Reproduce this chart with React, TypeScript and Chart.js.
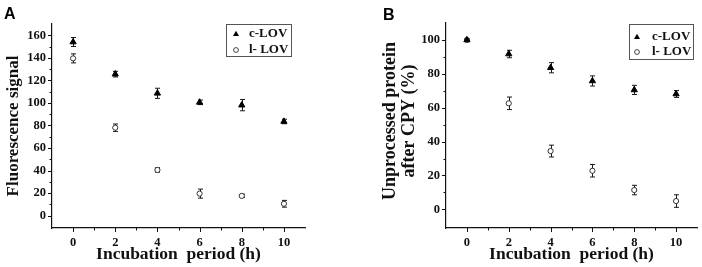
import React, { useEffect, useRef } from "react";
import { Chart, registerables } from "chart.js";

Chart.register(...registerables);

// ---------- data ----------
const hours = [0, 2, 4, 6, 8, 10];
const xTickValues = [0, 2, 4, 6, 8, 10];

// Panel A: fluorescence signal
const fluorC = [154, 125.5, 108.5, 100.5, 98, 83.5];
const fluorCErr = [4, 2.5, 4.5, 2, 5, 2];
const fluorL = [139.5, 78, 40.5, 19.5, 17.5, 10.5];
const fluorLErr = [4, 3.3, 2, 4, 1.5, 3];
const yTicksA = [0, 20, 40, 60, 80, 100, 120, 140, 160];

// Panel B: unprocessed protein after CPY (%)
const protC = [100, 91.7, 83.6, 75.8, 70.5, 68.1];
const protCErr = [0.6, 2.2, 3, 3, 2.7, 2];
const protL = [100, 62.6, 34.4, 22.8, 11.4, 4.9];
const protLErr = [0, 3.7, 3.5, 3.7, 2.8, 3.7];
const yTicksB = [0, 20, 40, 60, 80, 100];

const seriesNames = ["c-LOV", "l- LOV"];

const SERIF = "'Liberation Serif', 'Times New Roman', serif";

type PanelProps = {
  letter: string;
  letterX: number;
  letterY: number;
  cVals: number[];
  cErr: number[];
  lVals: number[];
  lErr: number[];
  yTicks: number[];
  yMin: number;
  yMax: number;
  yTitle: string | string[];
  width: number;
  left: number;
  pad: { left: number; right: number; top: number };
  yScaleWidth: number;
  yTitlePad: number;
  yTitleSize: number;
  yTitleLH: number;
  legend: { x: number; y: number; w: number; h: number; mx: number; tx: number; r1: number; r2: number };
};

function Panel(p: PanelProps) {
  const ref = useRef<HTMLCanvasElement>(null);
  useEffect(() => {
    if (!ref.current) return;
    const errs = [p.cErr, p.lErr];

    const errorBars = {
      id: "errorBars",
      beforeDatasetsDraw(chart: any) {
        const ctx = chart.ctx;
        const xs = chart.scales.x;
        const ys = chart.scales.y;
        ctx.save();
        ctx.strokeStyle = "#1a1a1a";
        ctx.lineWidth = 1;
        chart.data.datasets.forEach((ds: any, i: number) => {
          ds.data.forEach((pt: any, j: number) => {
            const e = errs[i][j];
            if (!e) return;
            const x = Math.round(xs.getPixelForValue(pt.x)) + 0.5;
            const y1 = ys.getPixelForValue(pt.y + e);
            const y2 = ys.getPixelForValue(pt.y - e);
            ctx.beginPath();
            ctx.moveTo(x, y1);
            ctx.lineTo(x, y2);
            ctx.moveTo(x - 2.5, y1);
            ctx.lineTo(x + 2.5, y1);
            ctx.moveTo(x - 2.5, y2);
            ctx.lineTo(x + 2.5, y2);
            ctx.stroke();
          });
        });
        ctx.restore();
      },
    };

    const decorations = {
      id: "decorations",
      afterDraw(chart: any) {
        const ctx = chart.ctx;
        const xs = chart.scales.x;
        const ys = chart.scales.y;
        const area = chart.chartArea;
        ctx.save();
        ctx.strokeStyle = "#111";
        ctx.lineWidth = 1;
        // x ticks
        ctx.beginPath();
        xTickValues.forEach((v, i) => {
          const x = Math.round(xs.getPixelForValue(v)) + 0.5;
          ctx.moveTo(x, area.bottom);
          ctx.lineTo(x, area.bottom + 4);
          if (i < xTickValues.length - 1) {
            const m = Math.round(xs.getPixelForValue((v + xTickValues[i + 1]) / 2)) + 0.5;
            ctx.moveTo(m, area.bottom);
            ctx.lineTo(m, area.bottom + 2.5);
          }
        });
        // y ticks
        p.yTicks.forEach((v, i) => {
          const y = Math.round(ys.getPixelForValue(v)) + 0.5;
          ctx.moveTo(area.left, y);
          ctx.lineTo(area.left - 4, y);
          if (i < p.yTicks.length - 1) {
            const m = Math.round(ys.getPixelForValue((v + p.yTicks[i + 1]) / 2)) + 0.5;
            ctx.moveTo(area.left, m);
            ctx.lineTo(area.left - 2.5, m);
          }
        });
        ctx.stroke();

        // legend
        const L = p.legend;
        ctx.strokeStyle = "#555";
        ctx.lineWidth = 1;
        ctx.strokeRect(L.x + 0.5, L.y + 0.5, L.w, L.h);
        // triangle
        ctx.fillStyle = "#000";
        ctx.beginPath();
        ctx.moveTo(L.mx, L.r1 - 3.2);
        ctx.lineTo(L.mx + 3, L.r1 + 2);
        ctx.lineTo(L.mx - 3, L.r1 + 2);
        ctx.closePath();
        ctx.fill();
        // circle
        ctx.strokeStyle = "#444";
        ctx.beginPath();
        ctx.arc(L.mx, L.r2, 2.4, 0, Math.PI * 2);
        ctx.stroke();
        ctx.fillStyle = "#111";
        ctx.font = `bold 13px ${SERIF}`;
        ctx.textBaseline = "middle";
        ctx.textAlign = "left";
        ctx.fillText(seriesNames[0], L.tx, L.r1);
        ctx.fillText(seriesNames[1], L.tx, L.r2);

        // panel letter
        ctx.font = "bold 16px 'Liberation Sans', Arial, sans-serif";
        ctx.textBaseline = "alphabetic";
        ctx.fillStyle = "#000";
        ctx.fillText(p.letter, p.letterX, p.letterY);
        ctx.restore();
      },
    };

    const chart = new Chart(ref.current, {
      type: "scatter",
      data: {
        datasets: [
          {
            label: seriesNames[0],
            data: hours.map((h, i) => ({ x: h, y: p.cVals[i] })),
            pointStyle: "triangle",
            pointRadius: 3.6,
            backgroundColor: "#000",
            borderColor: "#000",
            borderWidth: 1,
          },
          {
            label: seriesNames[1],
            data: hours.map((h, i) => ({ x: h, y: p.lVals[i] })),
            pointStyle: "circle",
            pointRadius: 2.6,
            backgroundColor: "#fff",
            borderColor: "#333",
            borderWidth: 1,
          },
        ],
      },
      options: {
        responsive: false,
        animation: false,
        devicePixelRatio: 1,
        layout: { padding: { left: p.pad.left, right: p.pad.right, top: p.pad.top, bottom: 0 } },
        plugins: { legend: { display: false }, tooltip: { enabled: false } },
        scales: {
          x: {
            type: "linear",
            min: -1,
            max: 11,
            grid: { display: false, drawTicks: false, tickLength: 0 },
            border: { display: true, color: "#111", width: 1.2 },
            afterBuildTicks: (s: any) => {
              s.ticks = xTickValues.map((v) => ({ value: v }));
            },
            afterFit: (s: any) => {
              s.height = 39;
            },
            ticks: {
              autoSkip: false,
              maxRotation: 0,
              padding: 7,
              color: "#111",
              font: { family: SERIF, size: 12.5, weight: "bold" },
            },
            title: {
              display: true,
              text: "Incubation  period (h)",
              color: "#111",
              font: { family: SERIF, size: 17.5, weight: "bold", lineHeight: 1.2 },
              padding: { top: 0, bottom: 2 },
            },
          },
          y: {
            type: "linear",
            min: p.yMin,
            max: p.yMax,
            grid: { display: false, drawTicks: false, tickLength: 0 },
            border: { display: true, color: "#111", width: 1.2 },
            afterBuildTicks: (s: any) => {
              s.ticks = p.yTicks.map((v) => ({ value: v }));
            },
            afterFit: (s: any) => {
              s.width = p.yScaleWidth;
            },
            ticks: {
              autoSkip: false,
              padding: 6,
              color: "#111",
              font: { family: SERIF, size: 12.5, weight: "bold" },
            },
            title: {
              display: true,
              text: p.yTitle,
              color: "#111",
              font: { family: SERIF, size: p.yTitleSize, weight: "bold", lineHeight: p.yTitleLH },
              padding: { top: p.yTitlePad, bottom: 0 },
            },
          },
        },
      },
      plugins: [errorBars, decorations],
    } as any);
    return () => chart.destroy();
  }, []);
  return (
    <canvas
      ref={ref}
      width={p.width}
      height={267}
      style={{ position: "absolute", left: p.left, top: 0, width: p.width, height: 267 }}
    />
  );
}

export default function App() {
  return (
    <div style={{ position: "fixed", left: 0, top: 0, width: 702, height: 267, background: "#fff", overflow: "hidden" }}>
      <Panel
        letter="A"
        letterX={4}
        letterY={19}
        cVals={fluorC}
        cErr={fluorCErr}
        lVals={fluorL}
        lErr={fluorLErr}
        yTicks={yTicksA}
        yMin={-11}
        yMax={170}
        yTitle="Fluorescence signal"
        width={350}
        left={0}
        pad={{ left: 0, right: 45, top: 24 }}
        yScaleWidth={52}
        yTitlePad={3}
        yTitleSize={17}
        yTitleLH={1.2}
        legend={{ x: 226, y: 24, w: 65, h: 32, mx: 236, tx: 249, r1: 34, r2: 50 }}
      />
      <Panel
        letter="B"
        letterX={28}
        letterY={19.5}
        cVals={protC}
        cErr={protCErr}
        lVals={protL}
        lErr={protLErr}
        yTicks={yTicksB}
        yMin={-11}
        yMax={110}
        yTitle={["  Unprocessed protein", "  after CPY (%)"]}
        width={347}
        left={355}
        pad={{ left: 0, right: 4, top: 23 }}
        yScaleWidth={91}
        yTitlePad={25}
        yTitleSize={18}
        yTitleLH={1.1}
        legend={{ x: 274, y: 24, w: 64, h: 35, mx: 282, tx: 297, r1: 37, r2: 52 }}
      />
    </div>
  );
}
